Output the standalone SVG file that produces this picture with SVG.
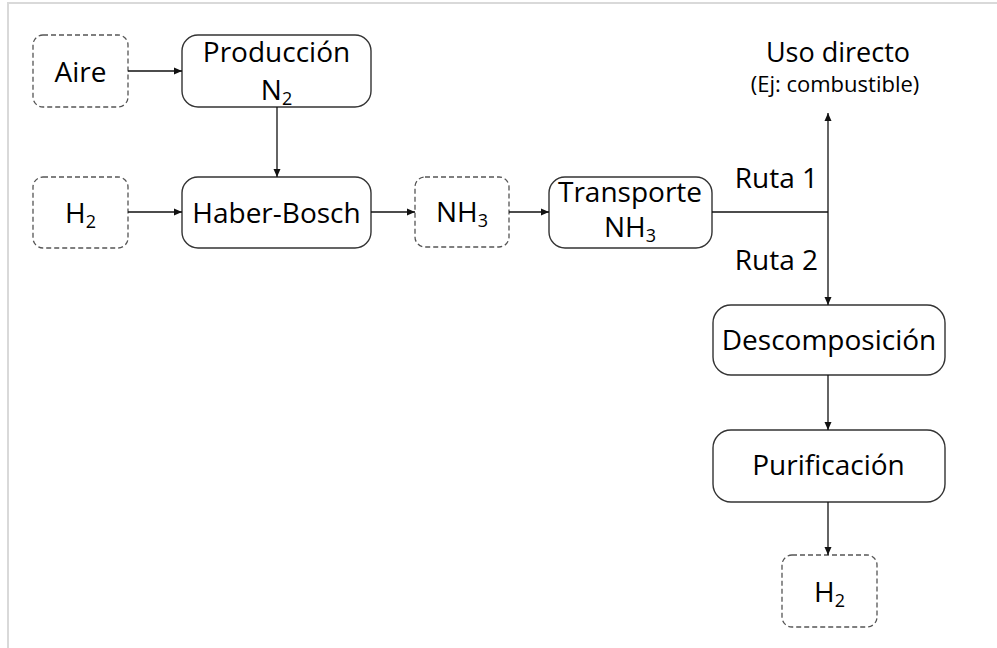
<svg xmlns="http://www.w3.org/2000/svg" width="997" height="648" viewBox="0 0 997 648">
<style>
.bg{fill:#fff}
.frame{stroke:#d9d9d9;stroke-width:2;fill:none}
.proc{fill:#fff;stroke:#333;stroke-width:1.4}
.term{fill:#fff;stroke:#555;stroke-width:1.3;stroke-dasharray:5 3}
text{font-family:"Open Sans","Noto Sans","Liberation Sans",sans-serif;fill:#000;font-size:28px;text-anchor:middle}
.sub{font-size:18px}
.small{font-size:22px}
.conn line{stroke:#111;stroke-width:1.3}
</style>
<defs>
<marker id="ah" viewBox="0 0 8 8" refX="8" refY="4" markerWidth="8" markerHeight="8" markerUnits="userSpaceOnUse" orient="auto">
<path d="M0,0.5 L8,4 L0,7.5 z" fill="#111"/>
</marker>
</defs>
<rect class="bg" x="0" y="0" width="997" height="648"/>
<path class="frame" d="M8,648 V3 H997"/>

<g id="aire"><rect class="term" x="33" y="35" width="95" height="72" rx="10"/><text x="80.5" y="82">Aire</text></g>
<g id="produccion"><rect class="proc" x="182" y="35" width="189" height="72" rx="16"/><text x="276.5" y="62">Producción</text><text x="276.5" y="100">N<tspan class="sub" dy="5">2</tspan></text></g>
<g id="h2-in"><rect class="term" x="33" y="177" width="95" height="71" rx="10"/><text x="80.5" y="223">H<tspan class="sub" dy="5">2</tspan></text></g>
<g id="haber-bosch"><rect class="proc" x="182" y="177" width="189" height="71" rx="16"/><text x="276.5" y="223">Haber-Bosch</text></g>
<g id="nh3"><rect class="term" x="415" y="177" width="94" height="70" rx="10"/><text x="462" y="222">NH<tspan class="sub" dy="5">3</tspan></text></g>
<g id="transporte"><rect class="proc" x="549" y="177" width="163" height="71" rx="16"/><text x="630" y="202">Transporte</text><text x="630" y="237">NH<tspan class="sub" dy="5">3</tspan></text></g>
<g id="uso-directo"><text x="838" y="62" style="font-size:27px">Uso directo</text><text class="small" x="835" y="92">(Ej: combustible)</text></g>
<g id="descomposicion"><rect class="proc" x="713" y="305" width="232" height="70" rx="18"/><text x="829" y="350">Descomposición</text></g>
<g id="purificacion"><rect class="proc" x="713" y="430" width="232" height="72" rx="18"/><text x="828.5" y="475">Purificación</text></g>
<g id="h2-out"><rect class="term" x="782" y="555" width="95" height="72" rx="10"/><text x="829.5" y="602">H<tspan class="sub" dy="5">2</tspan></text></g>

<g id="connectors" class="conn">
<line x1="128" y1="71" x2="182" y2="71" marker-end="url(#ah)"/>
<line x1="277" y1="107" x2="277" y2="177" marker-end="url(#ah)"/>
<line x1="128" y1="212" x2="182" y2="212" marker-end="url(#ah)"/>
<line x1="371" y1="212" x2="415" y2="212" marker-end="url(#ah)"/>
<line x1="509" y1="212" x2="549" y2="212" marker-end="url(#ah)"/>
<line x1="712" y1="212" x2="828" y2="212"/>
<line x1="828" y1="212" x2="828" y2="113" marker-end="url(#ah)"/>
<line x1="828" y1="212" x2="828" y2="305" marker-end="url(#ah)"/>
<line x1="828" y1="375" x2="828" y2="430" marker-end="url(#ah)"/>
<line x1="828" y1="502" x2="828" y2="555" marker-end="url(#ah)"/>
<text x="818" y="188" style="text-anchor:end">Ruta 1</text>
<text x="818" y="270" style="text-anchor:end">Ruta 2</text>
</g>
</svg>
